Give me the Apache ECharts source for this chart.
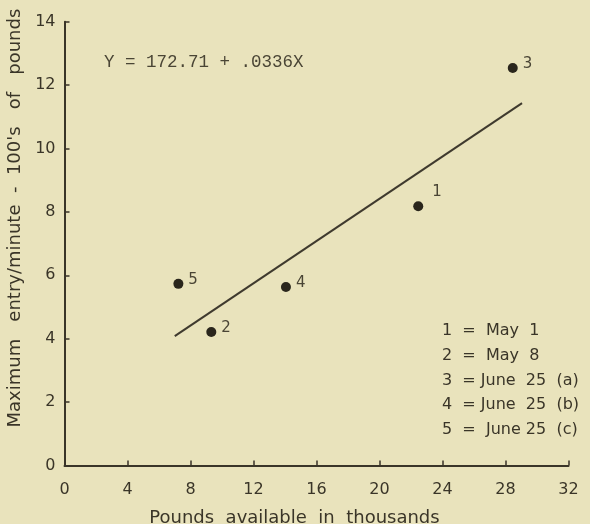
<!DOCTYPE html>
<html>
<head>
<meta charset="utf-8">
<script src="https://cdn.jsdelivr.net/npm/echarts@6/dist/echarts.min.js"></script>
<style>
html,body{margin:0;padding:0;background:#e9e3bc;}
#c{width:590px;height:524px;}
</style>
</head>
<body>
<div id="c"></div>
<script>
// Data
var pointIds = ['1', '2', '3', '4', '5'];
var poundsAvailable = [22.46, 9.32, 28.46, 14.06, 7.23];   // thousands
var maxEntry = [8.18, 4.21, 12.54, 5.63, 5.73];           // 100's of pounds/min
var regressionX = [7.0, 29.05];
var regressionY = [4.08, 11.43];
var equationText = 'Y = 172.71 + .0336X';
var legendLines = ['1  =  May  1', '2  =  May  8', '3  = June  25  (a)', '4  = June  25  (b)', '5  =  June 25  (c)'];
var xTicks = [0, 4, 8, 12, 16, 20, 24, 28, 32];
var yTicks = [0, 2, 4, 6, 8, 10, 12, 14];

var ink = '#3a3528';
var font = 'DejaVu Sans';

var scatterData = pointIds.map(function (id, i) {
  var item = { value: [poundsAvailable[i], maxEntry[i]], name: id };
  if (id === '1') item.label = { offset: [4, -14] };
  return item;
});
var lineData = regressionX.map(function (x, i) { return [x, regressionY[i]]; });

var chart = echarts.init(document.getElementById('c'));
chart.setOption({
  backgroundColor: '#e9e3bc',
  animation: false,
  grid: { left: 64.5, right: 21.5, top: 21.7, bottom: 58.5, containLabel: false, outerBoundsMode: 'none' },
  xAxis: {
    type: 'value', min: 0, max: 32, interval: 4,
    name: 'Pounds  available  in  thousands',
    nameLocation: 'middle', nameGap: 44,
    nameTextStyle: { color: ink, fontSize: 18, fontFamily: font, padding: [0, 44, 0, 0] },
    axisLine: { show: true, lineStyle: { color: ink, width: 2 } },
    axisTick: { show: true, inside: true, length: 5, lineStyle: { color: ink, width: 1.5 } },
    axisLabel: { color: ink, fontSize: 16, fontFamily: font, margin: 16 },
    splitLine: { show: false }
  },
  yAxis: {
    type: 'value', min: 0, max: 14, interval: 2,
    name: "Maximum   entry/minute  -  100's   of   pounds",
    nameLocation: 'middle', nameGap: 37,
    nameTextStyle: { color: ink, fontSize: 18, fontFamily: font, padding: [0, 0, 0, 51] },
    axisLine: { show: true, lineStyle: { color: ink, width: 2 } },
    axisTick: { show: true, inside: true, length: 5, lineStyle: { color: ink, width: 1.5 } },
    axisLabel: { color: ink, fontSize: 16, fontFamily: font, margin: 9 },
    splitLine: { show: false }
  },
  graphic: [
    {
      type: 'text', left: 104, top: 53,
      style: { text: equationText, fill: '#4a4535', font: '17.5px "Liberation Mono"' }
    },
    {
      type: 'group', left: 442, top: 323,
      children: legendLines.map(function (t, i) {
        return { type: 'text', x: 0, y: i * 24.7,
          style: { text: t, fill: ink, font: '16px "DejaVu Sans"' } };
      })
    }
  ],
  series: [
    {
      type: 'line', data: lineData, symbol: 'none', silent: true,
      lineStyle: { color: '#3f3a2e', width: 2 }
    },
    {
      type: 'scatter', data: scatterData, symbol: 'circle', symbolSize: 10,
      itemStyle: { color: '#2a261c', opacity: 1 },
      label: {
        show: true, position: 'right', distance: 5, offset: [0, -4],
        formatter: function (p) { return p.name; },
        color: '#4a4535', fontSize: 15, fontFamily: font
      }
    }
  ]
});
</script>
</body>
</html>
